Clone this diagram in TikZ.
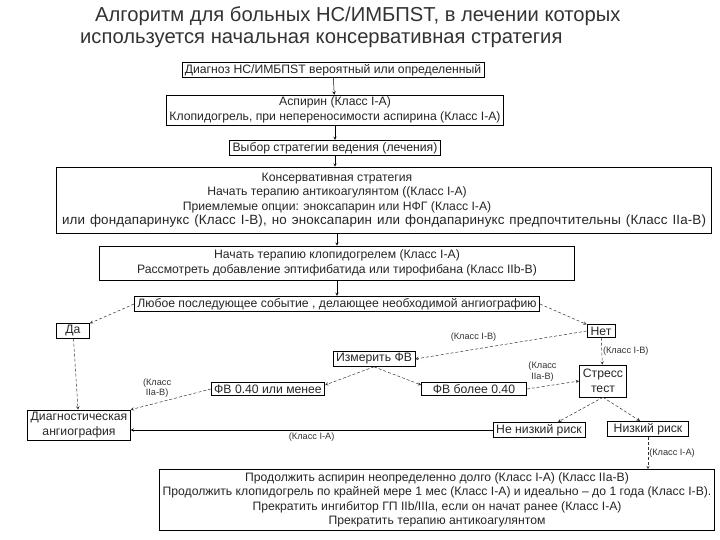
\documentclass[tikz,border=0pt]{standalone}
\usepackage{fontspec}
\setmainfont{Liberation Sans}
\usepackage{tikz}
\usetikzlibrary{arrows, positioning}
\tikzstyle{arrow} = [->,>=stealth, line width=0.5pt]
\tikzstyle{dasharrow} = [->,>=stealth, densely dashed, line width=0.5pt, draw=black!80]
\tikzstyle{process} = [rectangle, draw=black, line width=0.6pt, inner xsep=3pt, inner ysep=2pt, align=center, text=black!85, font=\fontsize{12.2}{14.5}\selectfont]
\tikzstyle{classlabel} = [font=\fontsize{9.2}{10.5}\selectfont, text=black!80, align=center, inner sep=1pt]
\tikzstyle{heading} = [anchor=west, inner sep=0pt, text=black!80, font=\fontsize{20.2}{24}\selectfont]

\begin{document}
\begin{tikzpicture}[x=1pt, y=-1pt, node distance=40pt]
\path[use as bounding box, fill=white] (0,0) rectangle (720,540);
%----------------------------------------------------------------------------
% Title
\node (title1) [heading] at (95,16) {Алгоритм для больных НС/ИМБПST, в лечении которых};
\node (title2) [heading] at (80,40) {используется начальная консервативная стратегия};

%----------------------------------------------------------------------------
% Placement of flowchart nodes
\node (diag) [process] at (333,70)
{Диагноз НС/ИМБПST вероятный или определенный};

\node (aspirin) [process, below of = diag, xshift=2pt]
{Аспирин (Класс I-A)\\Клопидогрель, при непереносимости аспирина (Класс I-A)};

\node (choice) [process, below of = aspirin, node distance = 38pt]
{Выбор стратегии ведения (лечения)};

\node (conserv) [process, below of = choice, node distance = 52pt, xshift=49pt,
  minimum width=655pt, minimum height=66pt]
{Консервативная стратегия\rule{94pt}{0pt}\\
Начать терапию антикоагулянтом ((Класс I-A)\rule{94pt}{0pt}\\
Приемлемые опции: эноксапарин или НФГ (Класс I-A)\rule{94pt}{0pt}\\
\makebox[644pt][s]{\fontsize{13.4}{14.5}\selectfont\addfontfeature{LetterSpace=1}или фондапаринукс (Класс I-B), но эноксапарин или фондапаринукс предпочтительны (Класс IIa-B)}};

\node (clopid) [process, below of = conserv, node distance = 63pt, xshift=-47pt,
  minimum width=475pt, minimum height=34pt]
{Начать терапию клопидогрелем (Класс I-A)\\
Рассмотреть добавление эптифибатида или тирофибана (Класс IIb-B)};

\node (event) [process, below of = clopid, node distance = 41pt]
{Любое последующее событие , делающее необходимой ангиографию};

\node (yes) [process, minimum width=33pt] at (73,331) {Да};
\node (no) [process, minimum width=28pt] at (601,331) {Нет};

\node (measure) [process] at (374,359) {Измерить ФВ};
\node (lowEF) [process, minimum width=113pt] at (268,389) {ФВ 0.40 или менее};
\node (highEF) [process, minimum width=105pt] at (474,389) {ФВ более 0.40};
\node (stress) [process, minimum width=47pt, minimum height=32pt] at (603,381)
{Стресс\\тест};

\node (angio) [process, minimum width=102pt, minimum height=30pt] at (79,425)
{Диагностическая\\ангиография};
\node (notLow) [process, minimum width=92pt] at (539,430) {Не низкий риск};
\node (lowRisk) [process, minimum width=81pt] at (648,429) {Низкий риск};

\node (follow) [process, minimum width=549pt, minimum height=61pt] at (437,500)
{Продолжить аспирин неопределенно долго (Класс I-A) (Класс IIa-B)\\
Продолжить клопидогрель по крайней мере 1 мес (Класс I-A) и идеально -- до 1 года (Класс I-B).\\
Прекратить ингибитор ГП IIb/IIIa, если он начат ранее (Класс I-A)\\
Прекратить терапию антикоагулянтом};

%----------------------------------------------------------------------------
% Drawing of Lines of main chart
\draw [arrow] (diag) -- (aspirin);
\draw [arrow] (aspirin) -- (choice);
\draw [arrow] (choice) -- (choice |- conserv.north);
\draw [arrow] (conserv.south -| clopid) -- (clopid);
\draw [arrow] (clopid) -- (event);

% branches
\draw [dasharrow] (event.west) -- (yes.north east);
\draw [dasharrow] (event.east) -- (no.north west);
\draw [dasharrow] (yes) -- (angio);

\draw [dasharrow] (no.west) -- node[classlabel, pos=0.66, above=7pt] {(Класс I-B)} (measure.east);
\draw [dasharrow] (no) -- node[classlabel, right] {(Класс I-B)} (stress);

\draw [dasharrow] (measure.south) -- ([yshift=4pt]lowEF.east);
\draw [dasharrow] (measure.south) -- ([yshift=4pt]highEF.west);

\draw [dasharrow] (lowEF.west) -- node[classlabel, pos=0.67, above=4pt] {(Класс\\IIa-B)} (angio.north east);
\draw [dasharrow] (highEF.east) -- node[classlabel, pos=0.3, above=4pt] {(Класс\\IIa-B)} (stress.west);

\draw [dasharrow] (stress.south) -- ([xshift=19pt]notLow.north);
\draw [dasharrow] (stress.south) -- ([xshift=-8pt]lowRisk.north);

\draw [arrow] (notLow.west) -- node[classlabel, below=2pt] {(Класс I-A)} (notLow.west -| angio.east);
\draw [dasharrow] (lowRisk.south) -- node[classlabel, right] {(Класс I-A)} (lowRisk.south |- follow.north);
\end{tikzpicture}
\end{document}
